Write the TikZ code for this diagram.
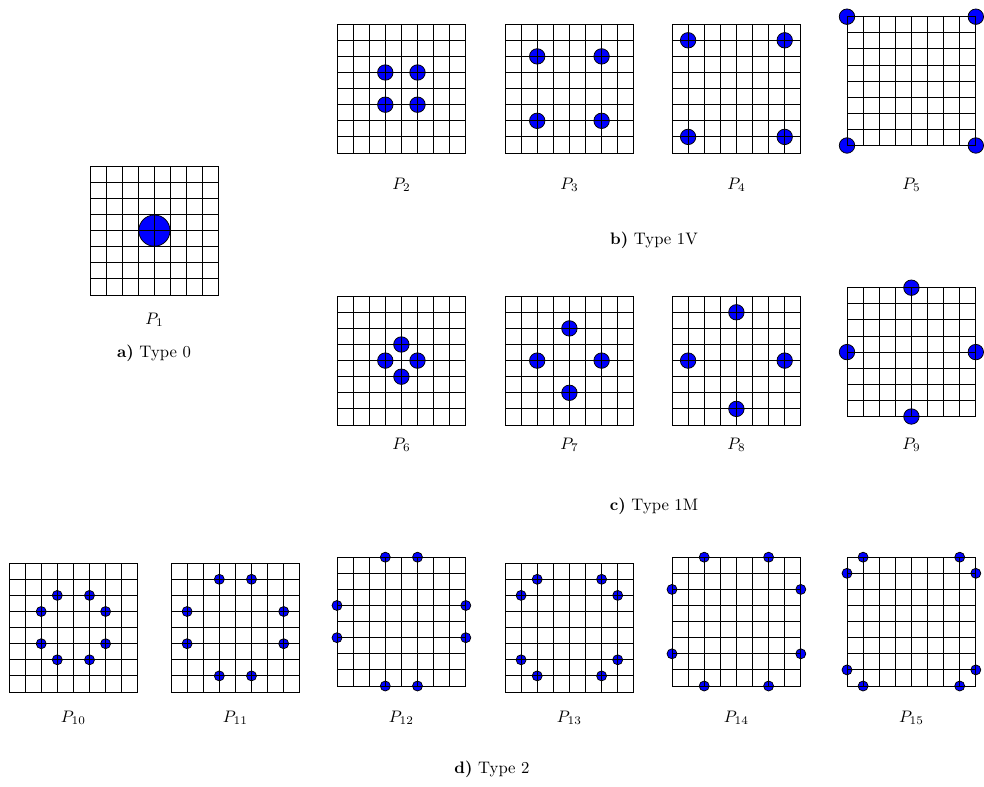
\documentclass[tikz,border=0pt]{standalone}
\begin{document}
\begin{tikzpicture}[x=0.6pt,y=-0.6pt,
  gridline/.style={line width=0.5pt,black},
  dotstyle/.style={fill=blue,draw=black,line width=0.45pt},
  plabel/.style={inner sep=0pt},
  caption/.style={inner sep=0pt}]
\useasboundingbox (0,0) rectangle (984,787);
% #1 name, #2 xleft, #3 ybottom, #4 radius (cells), #5 dots, #6 label y, #7 label text
\newcommand{\pgr}[7]{%
  \begin{scope}[shift={(#2,#3)},x=9.66pt,y=9.66pt]
    \foreach \i/\j in {#5} {\filldraw[dotstyle] (\i,\j) circle[radius=#4];}
    \foreach \k in {0,...,8} {\draw[gridline] (\k,0) -- (\k,8); \draw[gridline] (0,\k) -- (8,\k);}
  \end{scope}
  \node[plabel] (#1) at ({#2+64.4},#6) {$#7$};
}
\pgr{p1}{90}{295}{0.97}{4/4}{320}{P_1}
\pgr{p2}{337}{153}{0.48}{3/3,5/3,3/5,5/5}{185}{P_2}
\pgr{p3}{505}{153}{0.48}{2/2,6/2,2/6,6/6}{185}{P_3}
\pgr{p4}{672}{153}{0.48}{1/1,7/1,1/7,7/7}{185}{P_4}
\pgr{p5}{847}{145.5}{0.48}{0/0,8/0,0/8,8/8}{185}{P_5}
\pgr{p6}{337}{425}{0.48}{3/4,5/4,4/3,4/5}{445}{P_6}
\pgr{p7}{505}{425}{0.48}{2/4,6/4,4/2,4/6}{445}{P_7}
\pgr{p8}{672}{425}{0.48}{1/4,7/4,4/1,4/7}{445}{P_8}
\pgr{p9}{847}{416.5}{0.48}{0/4,8/4,4/0,4/8}{445}{P_9}
\pgr{p10}{9}{692}{0.31}{3/6,5/6,2/5,6/5,2/3,6/3,3/2,5/2}{718}{P_{10}}
\pgr{p11}{171}{692}{0.31}{3/7,5/7,1/5,7/5,1/3,7/3,3/1,5/1}{718}{P_{11}}
\pgr{p12}{337}{686}{0.31}{3/8,5/8,0/5,8/5,0/3,8/3,3/0,5/0}{718}{P_{12}}
\pgr{p13}{505}{692}{0.31}{2/7,6/7,1/6,7/6,1/2,7/2,2/1,6/1}{718}{P_{13}}
\pgr{p14}{672}{686}{0.31}{2/8,6/8,0/6,8/6,0/2,8/2,2/0,6/0}{718}{P_{14}}
\pgr{p15}{847}{686}{0.31}{1/8,7/8,0/7,8/7,0/1,8/1,1/0,7/0}{718}{P_{15}}
\node[caption] (ca) at (154,353) {\textbf{a)} Type 0};
\node[caption] (cb) at (654,240) {\textbf{b)} Type 1V};
\node[caption] (cc) at (654,506) {\textbf{c)} Type 1M};
\node[caption] (cd) at (492,769) {\textbf{d)} Type 2};
\end{tikzpicture}
\end{document}
